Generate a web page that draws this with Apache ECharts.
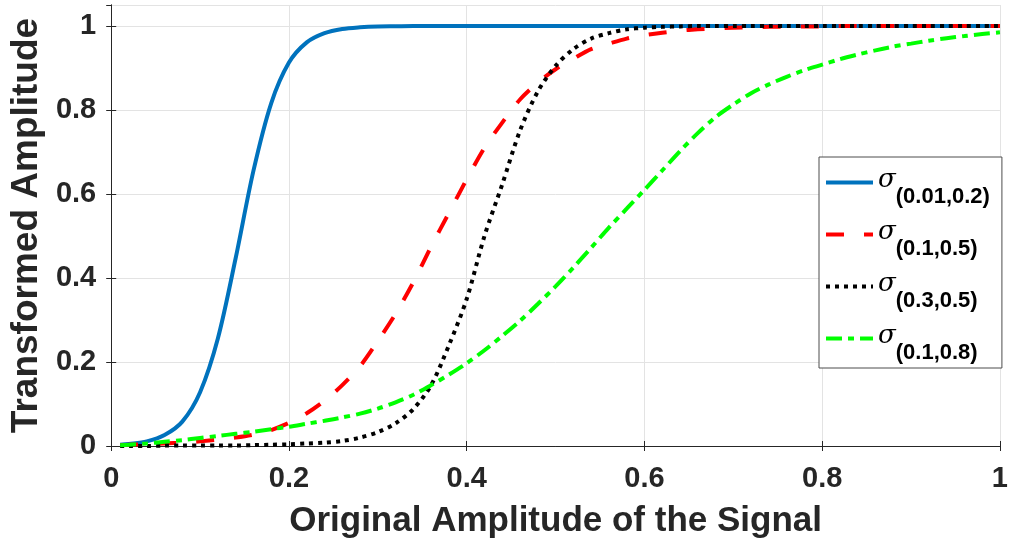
<!DOCTYPE html>
<html>
<head>
<meta charset="utf-8">
<script src="https://cdn.jsdelivr.net/npm/echarts@6/dist/echarts.min.js"></script>
<style>
  html, body { margin: 0; padding: 0; background: #fff; }
  #chart { width: 1011px; height: 545px; }
</style>
</head>
<body>
<div id="chart"></div>
<script>
// x positions of the samples
const xs = [0.01, 0.02, 0.04, 0.06, 0.08, 0.10, 0.12, 0.14, 0.16, 0.18,
  0.20, 0.22, 0.24, 0.26, 0.28, 0.30, 0.32, 0.34, 0.36, 0.38,
  0.40, 0.42, 0.44, 0.46, 0.48, 0.50, 0.52, 0.54, 0.56, 0.58,
  0.60, 0.62, 0.64, 0.66, 0.68, 0.70, 0.72, 0.74, 0.76, 0.78,
  0.80, 0.82, 0.84, 0.86, 0.88, 0.90, 0.92, 0.94, 0.96, 0.98, 1.00]

const sig001_02 = [0.003, 0.005, 0.011, 0.026, 0.058, 0.128, 0.256, 0.447, 0.655, 0.816,
  0.913, 0.961, 0.983, 0.993, 0.997, 0.999, 0.9995, 1, 1, 1,
  1, 1, 1, 1, 1, 1, 1, 1, 1, 1,
  1, 1, 1, 1, 1, 1, 1, 1, 1, 1,
  1, 1, 1, 1, 1, 1, 1, 1, 1, 1, 1]

const sig01_05 = [0.002, 0.003, 0.004, 0.006, 0.008, 0.011, 0.015, 0.02, 0.027, 0.038,
  0.055, 0.078, 0.108, 0.145, 0.19, 0.25, 0.315, 0.39, 0.475, 0.555,
  0.635, 0.71, 0.77, 0.825, 0.865, 0.897, 0.922, 0.945, 0.958, 0.97,
  0.978, 0.984, 0.989, 0.992, 0.994, 0.996, 0.997, 0.998, 0.998, 0.999,
  0.999, 1, 1, 1, 1, 1, 1, 1, 1, 1, 1]

const sig03_05 = [0, 0, 0, 0.001, 0.001, 0.001, 0.001, 0.001, 0.002, 0.003,
  0.004, 0.006, 0.008, 0.012, 0.02, 0.033, 0.054, 0.088, 0.145, 0.24,
  0.35, 0.5, 0.623, 0.751, 0.844, 0.905, 0.945, 0.97, 0.983, 0.992,
  0.996, 0.998, 0.999, 1, 1, 1, 1, 1, 1, 1,
  1, 1, 1, 1, 1, 1, 1, 1, 1, 1, 1]

const sig01_08 = [0.002, 0.003, 0.006, 0.01, 0.014, 0.019, 0.024, 0.029, 0.034, 0.04,
  0.046, 0.053, 0.06, 0.068, 0.077, 0.089, 0.104, 0.122, 0.145, 0.17,
  0.197, 0.228, 0.262, 0.298, 0.338, 0.38, 0.425, 0.472, 0.52, 0.565,
  0.61, 0.656, 0.702, 0.745, 0.783, 0.813, 0.84, 0.861, 0.879, 0.895,
  0.908, 0.921, 0.932, 0.942, 0.951, 0.958, 0.965, 0.971, 0.976, 0.981, 0.985]

const seriesNames = ['(0.01,0.2)', '(0.1,0.5)', '(0.3,0.5)', '(0.1,0.8)']

const axisColor = '#262626'
const font = '"Liberation Sans", Arial, Helvetica, sans-serif'

function pairs(ys) {
  return xs.map((x, i) => [x, ys[i]])
}

function line(name, ys, color, type) {
  return {
    name: name,
    type: 'line',
    data: pairs(ys),
    showSymbol: false,
    symbol: 'none',
    smooth: 0.3,
    xAxisIndex: 0,
    yAxisIndex: 0,
    lineStyle: { color: color, width: 4, type: type, cap: 'butt' },
    itemStyle: { color: color },
  }
}

const myChart = echarts.init(document.getElementById('chart'), null, { renderer: 'canvas' })

// box edges on top and right (ticks only)
const plainAxis = {
  axisLine: { show: true, lineStyle: { color: axisColor, width: 1 } },
  axisTick: { show: true, inside: true, length: 5, lineStyle: { color: axisColor } },
  splitLine: { show: false },
  axisLabel: { show: false },
}

myChart.setOption({
  animation: false,
  grid: {
    left: 105,
    right: 6,
    top: 5,
    bottom: 99,
    containLabel: false,
  },
  legend: {
    orient: 'vertical',
    left: 819,
    top: 157,
    padding: [10, 12, 4, 5],
    itemGap: 11,
    itemWidth: 47,
    itemHeight: 14,
    backgroundColor: '#fff',
    borderColor: '#4d4d4d',
    borderWidth: 1,
    borderRadius: 0,
    itemStyle: { opacity: 0 },
    lineStyle: { width: 4 },
    data: seriesNames,
    formatter: function (name) {
      return '{s|σ}{sub|' + name + '}'
    },
    textStyle: {
      padding: [10, 0, 0, 0],
      rich: {
        s: {
          fontFamily: '"DejaVu Serif", "Liberation Serif", serif',
          fontStyle: 'italic',
          fontSize: 26,
          color: '#000',
          verticalAlign: 'top',
          lineHeight: 41,
        },
        sub: {
          fontFamily: font,
          fontWeight: 'bold',
          fontSize: 22,
          color: '#000',
          verticalAlign: 'bottom',
          lineHeight: 41,
        },
      },
    },
  },
  xAxis: [
    {
      type: 'value',
      min: 0,
      max: 1,
      interval: 0.2,
      position: 'bottom',
      axisLine: { show: true, onZero: false, lineStyle: { color: axisColor, width: 1 } },
      axisTick: { show: true, inside: true, length: 5, lineStyle: { color: axisColor } },
      splitLine: { show: true, lineStyle: { color: '#e3e3e3', width: 1 } },
      axisLabel: {
        margin: 18,
        color: axisColor,
        fontFamily: font,
        fontWeight: 'bold',
        fontSize: 29,
      },
      name: 'Original Amplitude of the Signal',
      nameLocation: 'middle',
      nameGap: 58,
      nameTextStyle: {
        color: axisColor,
        fontFamily: font,
        fontWeight: 'bold',
        fontSize: 35,
      },
    },
    Object.assign({
      type: 'value',
      min: 0,
      max: 1,
      interval: 0.2,
      position: 'top',
    }, plainAxis),
  ],
  yAxis: [
    {
      type: 'value',
      min: 0,
      max: 1.05,
      interval: 0.2,
      position: 'left',
      axisLine: { show: true, onZero: false, lineStyle: { color: axisColor, width: 1 } },
      axisTick: { show: true, inside: true, length: 5, lineStyle: { color: axisColor } },
      splitLine: { show: true, lineStyle: { color: '#e3e3e3', width: 1 } },
      axisLabel: {
        margin: 15,
        showMaxLabel: false,
        color: axisColor,
        fontFamily: font,
        fontWeight: 'bold',
        fontSize: 29,
      },
      name: 'Transformed Amplitude',
      nameLocation: 'middle',
      nameGap: 60,
      nameTextStyle: {
        color: axisColor,
        fontFamily: font,
        fontWeight: 'bold',
        fontSize: 37,
      },
    },
    Object.assign({
      type: 'value',
      min: 0,
      max: 1.05,
      interval: 0.2,
      position: 'right',
    }, plainAxis),
  ],
  series: [
    line(seriesNames[0], sig001_02, '#0072BD', 'solid'),
    line(seriesNames[1], sig01_05, '#FF0000', [18, 20]),
    line(seriesNames[2], sig03_05, '#000000', [4, 5]),
    line(seriesNames[3], sig01_08, '#00FF00', [16, 6, 6, 6]),
  ],
})

window.addEventListener('resize', () => {
  myChart.resize()
})
</script>
</body>
</html>
